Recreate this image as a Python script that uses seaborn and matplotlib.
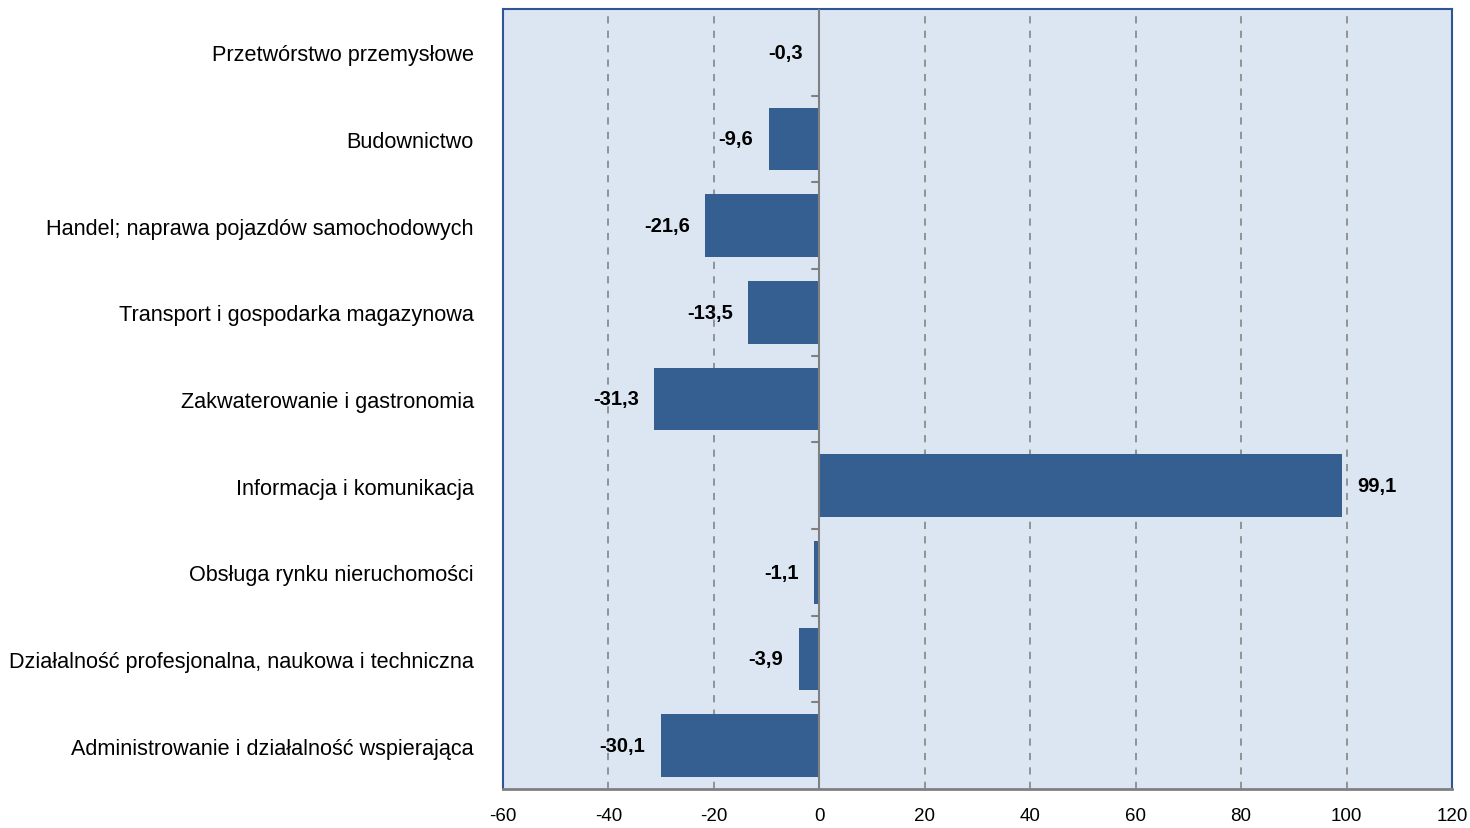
import matplotlib
matplotlib.use("Agg")
import matplotlib.pyplot as plt
import seaborn as sns
import pandas as pd
from matplotlib import font_manager

categories = [
    "Przetwórstwo przemysłowe",
    "Budownictwo",
    "Handel; naprawa pojazdów samochodowych",
    "Transport i gospodarka magazynowa",
    "Zakwaterowanie i gastronomia",
    "Informacja i komunikacja",
    "Obsługa rynku nieruchomości",
    "Działalność profesjonalna, naukowa i techniczna",
    "Administrowanie i działalność wspierająca",
]
values = [-0.3, -9.6, -21.6, -13.5, -31.3, 99.1, -1.1, -3.9, -30.1]
xticks = [-60, -40, -20, 0, 20, 40, 60, 80, 100, 120]

sns.set_theme(style="white")
names = {f.name for f in font_manager.fontManager.ttflist}
narrow = "Liberation Sans Narrow" if "Liberation Sans Narrow" in names else "Liberation Sans"
plt.rcParams["font.family"] = ["Liberation Sans", "DejaVu Sans"]

df = pd.DataFrame({"cat": categories, "val": values})

fig = plt.figure(figsize=(14.7, 8.29), dpi=100)
ax = fig.add_axes([503/1470, 1-790/829, (1452-503)/1470, 780/829])
ax.set_facecolor("#DCE6F2")

sns.barplot(data=df, x="val", y="cat", orient="h", color="#365F91",
            saturation=1, width=0.72, ax=ax, zorder=3, linewidth=0)

ax.set_xlim(-60, 120)
ax.set_ylim(len(categories) - 0.5, -0.5)
ax.set_xticks(xticks)
ax.set_xticklabels([str(t) for t in xticks], fontfamily=narrow, fontsize=13.5)
ax.tick_params(axis="x", length=5, color="#808080", width=1, pad=8, labelcolor="black")
ax.tick_params(axis="y", length=0, pad=21, labelsize=15.6, labelcolor="black")
ax.set_xlabel("")
ax.set_ylabel("")

for t in xticks[1:-1]:
    if t == 0:
        continue
    ax.axvline(t, color="#8C8C8C", linestyle=(0, (4, 4)), linewidth=1.3, zorder=1)
ax.axvline(0, color="#808080", linewidth=1.5, zorder=4)
for i in range(len(categories) - 1):
    ax.plot([-1.4, 0], [i + 0.5, i + 0.5], color="#808080", linewidth=1.5, zorder=4)

for c in ax.containers:
    ax.bar_label(c, labels=[f"{v:.1f}".replace(".", ",") for v in values],
                 padding=11, fontsize=14.5, fontweight="bold", fontfamily=narrow, color="black")

for s in ["left", "right", "top"]:
    ax.spines[s].set_color("#2F5597")
    ax.spines[s].set_linewidth(1.5)
ax.spines["bottom"].set_color("#808080")
ax.spines["bottom"].set_linewidth(2)

fig.savefig("out.png", dpi=100)
